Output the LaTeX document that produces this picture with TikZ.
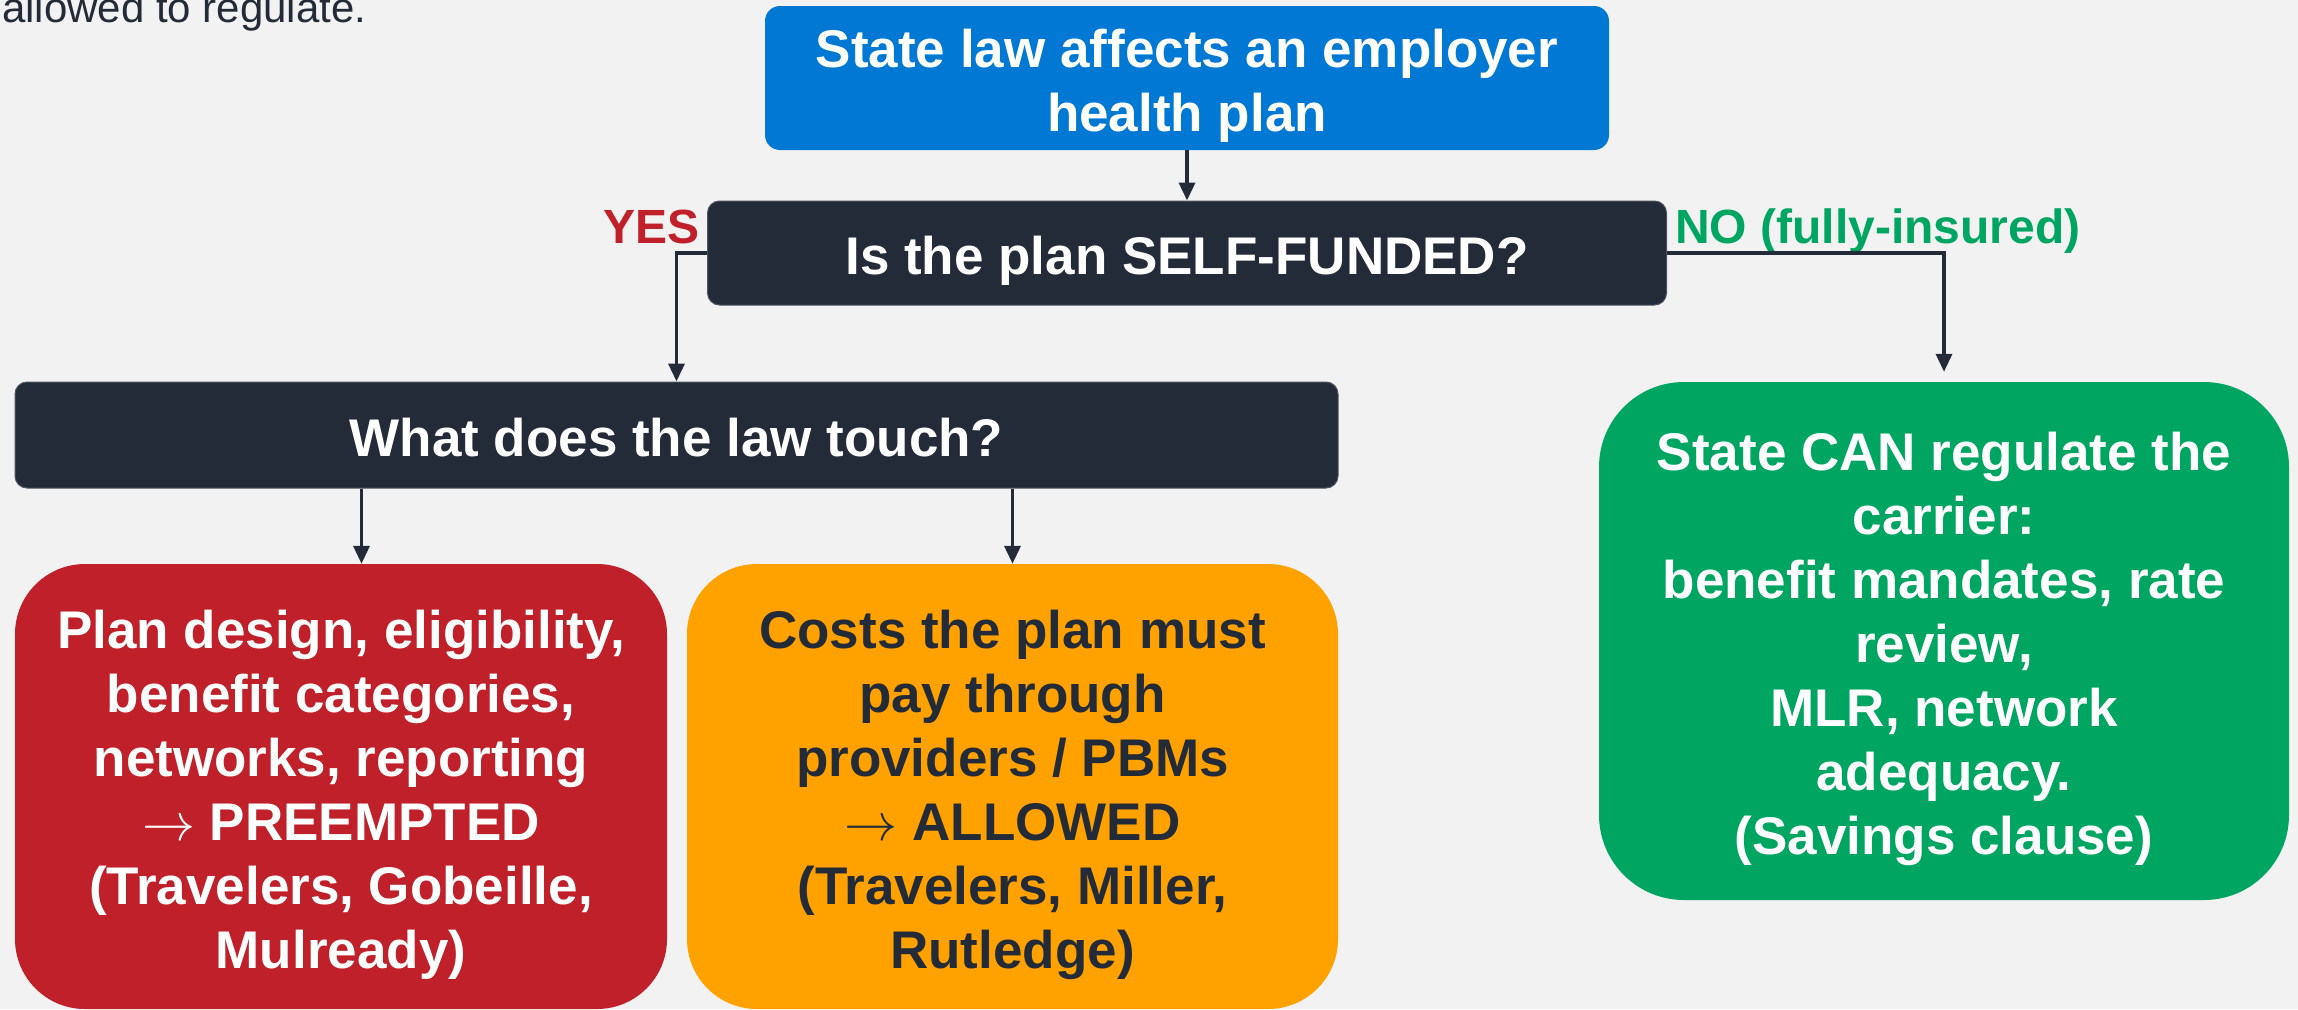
\RequirePackage{fix-cm}
\documentclass[tikz,border=0pt]{standalone}
\usepackage{fontspec}
\setmainfont{Liberation Sans}
\usetikzlibrary{arrows.meta}
\definecolor{bg}{HTML}{F2F2F2}
\definecolor{navy}{HTML}{232B38}
\definecolor{azure}{HTML}{0078D4}
\definecolor{crimson}{HTML}{C0202A}
\definecolor{amber}{HTML}{FFA200}
\definecolor{emerald}{HTML}{00A562}
% fixed first-line height and last-line depth so every box sets its text alike
\newcommand{\firststrut}{\rule{0pt}{55pt}}
\newcommand{\laststrut}{\rule[-12pt]{0pt}{12pt}}

\begin{document}
\begin{tikzpicture}[x=1pt,y=-1pt,
  box/.style={rectangle, align=center, inner sep=0pt,
    font=\fontsize{53}{64}\selectfont\bfseries, text=white},
  question/.style={box, fill=navy, draw=navy!80!white, line width=1pt, rounded corners=12pt},
  outcome/.style={box, rounded corners=70pt},
  arr/.style={draw=navy, line width=3.5pt, -{Triangle[length=18pt,width=16pt]}},
  lbl/.style={inner sep=0pt, font=\fontsize{48}{56}\selectfont\bfseries}]

% canvas
\fill[bg] (0,0) rectangle (2298,1009);
\useasboundingbox (0,0) rectangle (2298,1009);

% tail of the preceding paragraph
\node[anchor=base west, inner sep=0pt, text=navy,
      font=\fontsize{42}{48}\selectfont] (prev) at (2,22) {allowed to regulate.};

% decision boxes
\node[box, fill=azure, rounded corners=15pt, minimum width=844pt, minimum height=144pt]
  (top) at (1187,78) {\firststrut State law affects an employer\\health plan\laststrut};
\node[question, minimum width=959pt, minimum height=104pt]
  (q) at (1187,253) {\firststrut Is the plan SELF-FUNDED?\laststrut};
\node[question, minimum width=1323pt, minimum height=106pt]
  (touch) at (676.5,435) {\firststrut What does the law touch?\laststrut};

% outcomes
\node[outcome, fill=crimson, minimum width=652pt, minimum height=445pt]
  (pre) at (341,786.5)
  {\firststrut Plan design, eligibility,\\benefit categories,\\networks, reporting\\$\rightarrow$ PREEMPTED\\(Travelers, Gobeille,\\Mulready)\laststrut};
\node[outcome, fill=amber, text=navy, minimum width=651pt, minimum height=445pt]
  (ok) at (1012.5,786.5)
  {\firststrut Costs the plan must\\pay through\\providers / PBMs\\$\rightarrow$ ALLOWED\\(Travelers, Miller,\\Rutledge)\laststrut};
\node[box, fill=emerald, rounded corners=85pt, minimum width=690pt, minimum height=518pt]
  (carrier) at (1944,641)
  {\firststrut State CAN regulate the\\carrier:\\benefit mandates, rate\\review,\\MLR, network\\adequacy.\\(Savings clause)\laststrut};

% branch labels
\node[lbl, anchor=base east, text=crimson] (yes) at (700,243) {YES};
\node[lbl, anchor=base west, text=emerald] (no) at (1675,243) {NO (fully-insured)};

% connectors
\draw[arr] (top.south) -- (q.north);
\draw[arr] (q.west) -| ([xshift=662pt]touch.north west);
\draw[arr, shorten >=10pt] (q.east) -| (carrier.north);
\draw[arr] ([xshift=347pt]touch.south west) -- ([xshift=347pt]touch.south west |- pre.north);
\draw[arr] (touch.south -| ok.north) -- (ok.north);
\end{tikzpicture}
\end{document}
